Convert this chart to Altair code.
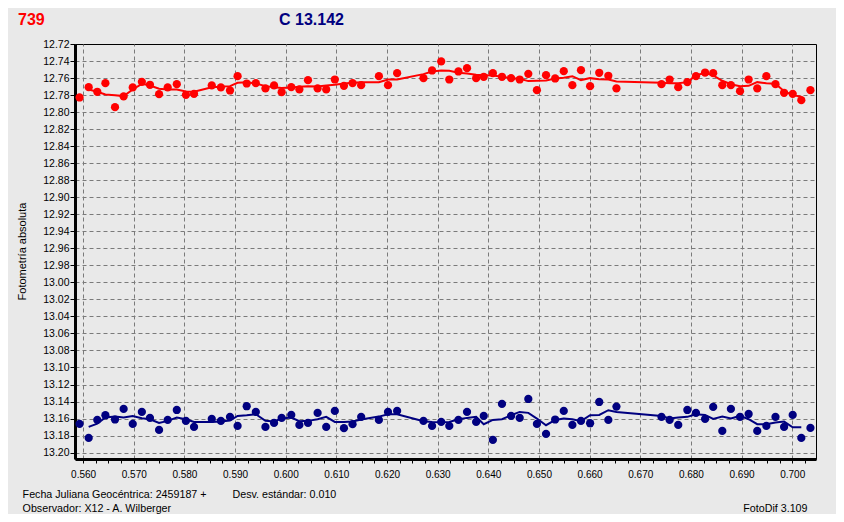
import altair as alt
import pandas as pd

# ---- data ----
T = [0.5593, 0.5611, 0.5628, 0.5644, 0.5663, 0.5680, 0.5698, 0.5716, 0.5732, 0.5750,
     0.5767, 0.5785, 0.5803, 0.5819, 0.5854, 0.5872, 0.5890, 0.5905, 0.5923, 0.5941,
     0.5960, 0.5977, 0.5992, 0.6011, 0.6027, 0.6044, 0.6063, 0.6080, 0.6097, 0.6115,
     0.6132, 0.6149, 0.6184, 0.6202, 0.6220, 0.6272, 0.6289, 0.6307, 0.6323, 0.6341,
     0.6358, 0.6376, 0.6391, 0.6409, 0.6427, 0.6445, 0.6462, 0.6479, 0.6496, 0.6514,
     0.6532, 0.6549, 0.6566, 0.6583, 0.6601, 0.6619, 0.6637, 0.6653, 0.6742, 0.6758,
     0.6775, 0.6793, 0.6810, 0.6828, 0.6844, 0.6862, 0.6879, 0.6897, 0.6914, 0.6931,
     0.6949, 0.6967, 0.6984, 0.7001, 0.7018, 0.7036]

RED_MAG = [12.7828, 12.7707, 12.7761, 12.7660, 12.7942, 12.7816, 12.7710, 12.7644, 12.7679, 12.7789,
           12.7710, 12.7672, 12.7797, 12.7785, 12.7687, 12.7710, 12.7746, 12.7578, 12.7664, 12.7660,
           12.7722, 12.7687, 12.7766, 12.7707, 12.7734, 12.7625, 12.7722, 12.7734, 12.7617, 12.7691,
           12.7660, 12.7684, 12.7578, 12.7684, 12.7543, 12.7601, 12.7511, 12.7405, 12.7617, 12.7523,
           12.7484, 12.7601, 12.7585, 12.7543, 12.7585, 12.7601, 12.7617, 12.7550, 12.7742, 12.7566,
           12.7605, 12.7519, 12.7684, 12.7507, 12.7695, 12.7538, 12.7573, 12.7722, 12.7672, 12.7617,
           12.7707, 12.7648, 12.7578, 12.7535, 12.7543, 12.7684, 12.7684, 12.7754, 12.7617, 12.7722,
           12.7578, 12.7672, 12.7773, 12.7785, 12.7860, 12.7742]

BLUE_MAG = [13.1663, 13.1827, 13.1616, 13.1561, 13.1611, 13.1487, 13.1663, 13.1522, 13.1592, 13.1733,
            13.1616, 13.1499, 13.1628, 13.1698, 13.1604, 13.1628, 13.1581, 13.1686, 13.1455, 13.1522,
            13.1698, 13.1651, 13.1592, 13.1557, 13.1675, 13.1651, 13.1534, 13.1698, 13.1510, 13.1713,
            13.1666, 13.1581, 13.1616, 13.1522, 13.1510, 13.1628, 13.1686, 13.1639, 13.1686, 13.1616,
            13.1522, 13.1639, 13.1569, 13.1851, 13.1428, 13.1569, 13.1592, 13.1370, 13.1663, 13.1780,
            13.1611, 13.1510, 13.1675, 13.1628, 13.1655, 13.1405, 13.1616, 13.1459, 13.1581, 13.1616,
            13.1675, 13.1499, 13.1534, 13.1604, 13.1463, 13.1745, 13.1487, 13.1581, 13.1546, 13.1745,
            13.1686, 13.1581, 13.1698, 13.1557, 13.1827, 13.1710]

# smoothed curves (from 2nd to 75th observation)
LINE_T = T[1:75]
RED_SMOOTH = [12.7734, 12.7761, 12.7793, 12.7801, 12.7812, 12.7734, 12.7668, 12.7687, 12.7726, 12.7734,
              12.7734, 12.7758, 12.7761, 12.7707, 12.7703, 12.7695, 12.7656, 12.7648, 12.7664, 12.7695,
              12.7707, 12.7718, 12.7711, 12.7703, 12.7695, 12.7699, 12.7687, 12.7679, 12.7664, 12.7656,
              12.7648, 12.7648, 12.7617, 12.7617, 12.7554, 12.7523, 12.7511, 12.7515, 12.7538, 12.7546,
              12.7562, 12.7566, 12.7570, 12.7585, 12.7601, 12.7609, 12.7636, 12.7632, 12.7628, 12.7605,
              12.7597, 12.7578, 12.7624, 12.7601, 12.7613, 12.7617, 12.7640, 12.7656, 12.7660, 12.7660,
              12.7648, 12.7570, 12.7538, 12.7570, 12.7632, 12.7672, 12.7695, 12.7691, 12.7648, 12.7660,
              12.7668, 12.7754, 12.7801, 12.7820]
BLUE_SMOOTH = [13.1698, 13.1659, 13.1588, 13.1577, 13.1588, 13.1569, 13.1596, 13.1608, 13.1651, 13.1627,
               13.1588, 13.1608, 13.1639, 13.1639, 13.1635, 13.1623, 13.1569, 13.1561, 13.1549, 13.1627,
               13.1635, 13.1600, 13.1588, 13.1631, 13.1627, 13.1608, 13.1580, 13.1639, 13.1639, 13.1635,
               13.1612, 13.1577, 13.1549, 13.1549, 13.1631, 13.1639, 13.1643, 13.1639, 13.1608, 13.1592,
               13.1580, 13.1666, 13.1616, 13.1608, 13.1561, 13.1522, 13.1533, 13.1600, 13.1678, 13.1616,
               13.1600, 13.1608, 13.1631, 13.1561, 13.1557, 13.1502, 13.1522, 13.1569, 13.1600, 13.1588,
               13.1580, 13.1549, 13.1557, 13.1604, 13.1577, 13.1600, 13.1569, 13.1608, 13.1666, 13.1666,
               13.1647, 13.1635, 13.1702, 13.1702]

Y_TICKS = [12.72, 12.74, 12.76, 12.78, 12.80, 12.82, 12.84, 12.86, 12.88, 12.90, 12.92, 12.94, 12.96,
           12.98, 13.00, 13.02, 13.04, 13.06, 13.08, 13.10, 13.12, 13.14, 13.16, 13.18, 13.20]
X_MAJOR = [0.560, 0.570, 0.580, 0.590, 0.600, 0.610, 0.620, 0.630, 0.640, 0.650, 0.660, 0.670,
           0.680, 0.690, 0.700]
# major ticks plus three minor ticks between them
X_TICKS = sorted(set([round(v + d, 4) for v in X_MAJOR for d in (0.0, 0.0025, 0.005, 0.0075)
                      if v + d < 0.7047]))

TITLE_LEFT = "739"
TITLE_CENTER = "C 13.142"
Y_TITLE = "Fotometría absoluta"
FOOT_JD = "Fecha Juliana Geocéntrica: 2459187 +"
FOOT_STD = "Desv. estándar: 0.010"
FOOT_OBS = "Observador: X12 - A. Wilberger"
FOOT_SW = "FotoDif 3.109"

RED = "#ff0000"
NAVY = "#000080"
BG = "#e9e9e9"
FONT = "Liberation Sans"

pts = pd.DataFrame({"t": T, "red": RED_MAG, "blue": BLUE_MAG})
lines = pd.DataFrame({"t": LINE_T, "red": RED_SMOOTH, "blue": BLUE_SMOOTH})

xs = alt.Scale(domain=[0.5584, 0.7047], nice=False, zero=False)
ys = alt.Scale(domain=[12.72, 13.2075], nice=False, zero=False, reverse=True)

MAJOR_TEST = "abs(datum.value*100 - round(datum.value*100)) < 0.001"
x_axis = alt.Axis(
    values=X_TICKS, title=None,
    labelExpr=f"({MAJOR_TEST}) ? format(datum.value, '.3f') : ''",
    labelOverlap=False, labelFlush=False, labelFontSize=10, labelFont=FONT,
    labelColor="#000000", labelPadding=6,
    tickSize=4, tickColor="#000000", tickWidth=1,
    domainColor="#000000", domainWidth=3,
    grid=True, gridColor="#7a7a7a", gridDash=[4, 3], gridWidth=1,
    gridOpacity={"condition": {"test": MAJOR_TEST, "value": 1}, "value": 0},
)
y_axis = alt.Axis(
    values=Y_TICKS, format=".2f", title=None,
    labelOverlap=False, labelFlush=False, labelFontSize=10.5, labelFont=FONT,
    labelColor="#000000", labelPadding=1,
    tickSize=5, tickColor="#000000", tickWidth=1,
    domainColor="#000000", domainWidth=3,
    grid=True, gridColor="#7a7a7a", gridDash=[4, 3], gridWidth=1,
    gridOpacity={"condition": {"test": "datum.value > 12.725", "value": 1}, "value": 0},
)


def enc(chart, field):
    return chart.encode(
        x=alt.X("t:Q", scale=xs, axis=x_axis),
        y=alt.Y(f"{field}:Q", scale=ys, axis=y_axis),
    )


red_pts = enc(alt.Chart(pts).mark_circle(size=68, opacity=1, color=RED), "red")
blue_pts = enc(alt.Chart(pts).mark_circle(size=68, opacity=1, color=NAVY), "blue")
red_line = enc(alt.Chart(lines).mark_line(strokeWidth=2, color=RED), "red")
blue_line = enc(alt.Chart(lines).mark_line(strokeWidth=2, color=NAVY), "blue")


def label(txt, x, y, size=10.7, color="#000000", bold=False, align="left", angle=0):
    kw = dict(align=align, baseline="alphabetic", font=FONT, fontSize=size, color=color,
              fontWeight="bold" if bold else "normal")
    if angle:
        kw["angle"] = angle
    return alt.Chart(pd.DataFrame({"s": [txt]})).mark_text(**kw).encode(
        text="s:N", x=alt.value(x), y=alt.value(y))


texts = [
    label(TITLE_LEFT, -57, -19, size=16, color=RED, bold=True),
    label(TITLE_CENTER, 204, -19, size=16, color=NAVY, bold=True),
    label(Y_TITLE, -49, 207.5, size=11, align="center", angle=270),
    label(FOOT_JD, -52.4, 454),
    label(FOOT_STD, 157.5, 454),
    label(FOOT_OBS, -52.4, 468),
    label(FOOT_SW, 732.5, 468, align="right"),
]

chart = alt.layer(red_pts, blue_pts, red_line, blue_line, *texts).properties(
    width=741, height=415,
    padding={"left": 67, "top": 36, "right": 20, "bottom": 55},
    autosize=alt.AutoSizeParams(type="none"),
    background=BG,
).configure_view(fill=BG, stroke="#000000", strokeWidth=1)

chart.save("out.html", embed_options={"renderer": "svg", "actions": False})
